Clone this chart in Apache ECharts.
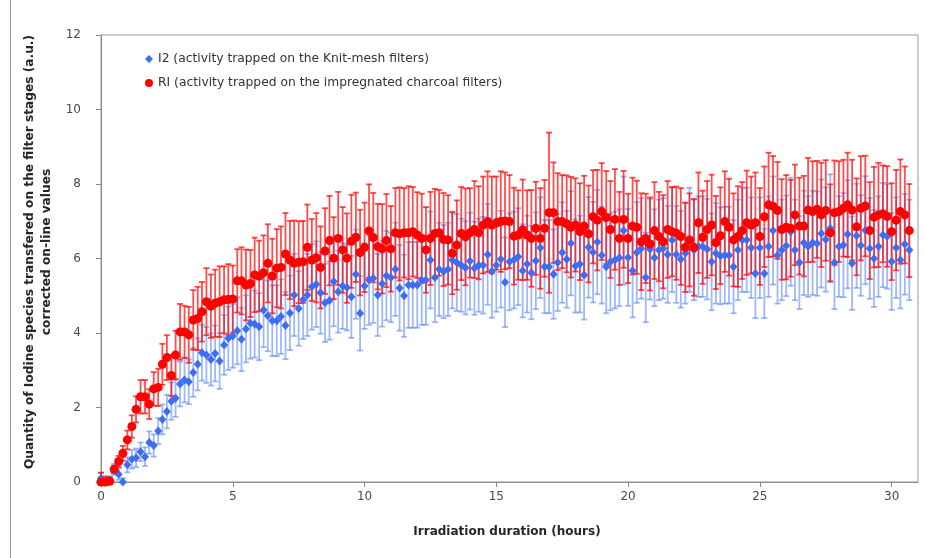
<!DOCTYPE html>
<html>
<head>
<meta charset="utf-8">
<script src="https://cdn.jsdelivr.net/npm/echarts@6/dist/echarts.min.js"></script>
<style>
  html, body { margin: 0; padding: 0; background: #fff; }
  #chart { width: 925px; height: 558px; }
</style>
</head>
<body>
<div id="chart"></div>
<script type="text/javascript">
    // irradiation time (hours), one sample every 10 minutes
    var hours = [
        0, 0.17, 0.33, 0.5, 0.67, 0.83, 1, 1.17, 1.33, 1.5, 1.67, 1.83,
        2, 2.17, 2.33, 2.5, 2.67, 2.83, 3, 3.17, 3.33, 3.5, 3.67, 3.83,
        4, 4.17, 4.33, 4.5, 4.67, 4.83, 5, 5.17, 5.33, 5.5, 5.67, 5.83,
        6, 6.17, 6.33, 6.5, 6.67, 6.83, 7, 7.17, 7.33, 7.5, 7.67, 7.83,
        8, 8.17, 8.33, 8.5, 8.67, 8.83, 9, 9.17, 9.33, 9.5, 9.67, 9.83,
        10, 10.17, 10.33, 10.5, 10.67, 10.83, 11, 11.17, 11.33, 11.5, 11.67, 11.83,
        12, 12.17, 12.33, 12.5, 12.67, 12.83, 13, 13.17, 13.33, 13.5, 13.67, 13.83,
        14, 14.17, 14.33, 14.5, 14.67, 14.83, 15, 15.17, 15.33, 15.5, 15.67, 15.83,
        16, 16.17, 16.33, 16.5, 16.67, 16.83, 17, 17.17, 17.33, 17.5, 17.67, 17.83,
        18, 18.17, 18.33, 18.5, 18.67, 18.83, 19, 19.17, 19.33, 19.5, 19.67, 19.83,
        20, 20.17, 20.33, 20.5, 20.67, 20.83, 21, 21.17, 21.33, 21.5, 21.67, 21.83,
        22, 22.17, 22.33, 22.5, 22.67, 22.83, 23, 23.17, 23.33, 23.5, 23.67, 23.83,
        24, 24.17, 24.33, 24.5, 24.67, 24.83, 25, 25.17, 25.33, 25.5, 25.67, 25.83,
        26, 26.17, 26.33, 26.5, 26.67, 26.83, 27, 27.17, 27.33, 27.5, 27.67, 27.83,
        28, 28.17, 28.33, 28.5, 28.67, 28.83, 29, 29.17, 29.33, 29.5, 29.67, 29.83,
        30, 30.17, 30.33, 30.5, 30.67
    ];

    // I2 - Knit-mesh filters
    var i2 = [
        0.10, 0.00, 0.05, 0.34, 0.21, 0.00, 0.46, 0.61, 0.65, 0.81,
        0.68, 1.06, 0.98, 1.37, 1.68, 1.89, 2.17, 2.25, 2.63, 2.74,
        2.69, 2.94, 3.16, 3.47, 3.41, 3.29, 3.45, 3.25, 3.68, 3.86,
        3.92, 4.06, 3.83, 4.11, 4.26, 4.24, 4.17, 4.62, 4.46, 4.33,
        4.33, 4.44, 4.20, 4.54, 5.02, 4.66, 4.89, 5.02, 5.24, 5.31,
        5.08, 4.81, 4.87, 5.38, 5.11, 5.26, 5.22, 4.97, 5.58, 4.53,
        5.26, 5.42, 5.47, 5.02, 5.32, 5.54, 5.49, 5.71, 5.21, 5.00,
        5.29, 5.29, 5.29, 5.42, 5.42, 5.96, 5.49, 5.71, 5.65, 5.71,
        5.96, 5.89, 5.82, 5.75, 5.93, 5.74, 5.82, 5.82, 6.11, 5.66,
        5.82, 5.98, 5.36, 5.91, 5.96, 6.05, 5.67, 5.85, 5.62, 5.94,
        6.29, 5.78, 5.78, 5.58, 5.89, 6.16, 5.98, 6.41, 5.80, 5.85,
        5.56, 6.30, 6.17, 6.44, 6.09, 5.78, 5.91, 5.96, 6.02, 6.75,
        6.03, 5.67, 6.16, 6.27, 5.49, 6.25, 6.02, 6.23, 6.27, 6.11,
        6.50, 6.11, 5.98, 6.14, 6.50, 6.23, 6.32, 6.32, 6.25, 5.91,
        6.14, 6.07, 6.09, 6.09, 5.78, 6.23, 6.50, 6.50, 6.29, 5.60,
        6.29, 5.60, 6.32, 6.75, 6.09, 6.23, 6.34, 6.72, 6.23, 5.89,
        6.42, 6.32, 6.42, 6.40, 6.67, 6.51, 6.81, 5.89, 6.32, 6.36,
        6.65, 5.87, 6.61, 6.35, 6.76, 6.27, 6.00, 6.32, 6.63, 6.59,
        5.92, 6.29, 5.96, 6.38, 6.23
    ];
    var i2Err = [
        0.15, 0.10, 0.10, 0.15, 0.15, 0.10, 0.20, 0.25, 0.25, 0.25,
        0.25, 0.30, 0.30, 0.35, 0.40, 0.45, 0.50, 0.50, 0.60, 0.60,
        0.60, 0.65, 0.70, 0.75, 0.75, 0.70, 0.75, 0.75, 0.80, 0.85,
        0.85, 0.90, 0.85, 0.90, 0.95, 0.90, 0.90, 1.00, 0.95, 0.95,
        0.95, 1.00, 0.90, 1.00, 1.10, 1.00, 1.05, 1.10, 1.15, 1.15,
        1.10, 1.05, 1.05, 1.20, 1.10, 1.15, 1.15, 1.10, 1.20, 1.00,
        1.15, 1.20, 1.20, 1.10, 1.15, 1.20, 1.20, 1.25, 1.15, 1.10,
        1.15, 1.15, 1.15, 1.20, 1.20, 1.30, 1.20, 1.25, 1.25, 1.25,
        1.30, 1.30, 1.25, 1.25, 1.30, 1.25, 1.25, 1.30, 1.35, 1.25,
        1.25, 1.30, 1.20, 1.30, 1.30, 1.30, 1.25, 1.30, 1.25, 1.30,
        1.35, 1.25, 1.25, 1.20, 1.30, 1.35, 1.30, 1.40, 1.25, 1.30,
        1.20, 1.35, 1.35, 1.40, 1.30, 1.25, 1.30, 1.30, 1.30, 1.45,
        1.30, 1.25, 1.35, 1.35, 1.20, 1.35, 1.30, 1.35, 1.35, 1.30,
        1.40, 1.30, 1.30, 1.35, 1.40, 1.35, 1.35, 1.35, 1.35, 1.30,
        1.35, 1.30, 1.30, 1.30, 1.25, 1.35, 1.40, 1.40, 1.35, 1.20,
        1.35, 1.20, 1.35, 1.45, 1.30, 1.35, 1.35, 1.45, 1.35, 1.25,
        1.40, 1.35, 1.40, 1.40, 1.45, 1.40, 1.45, 1.25, 1.35, 1.40,
        1.45, 1.25, 1.40, 1.35, 1.45, 1.35, 1.30, 1.35, 1.40, 1.40,
        1.30, 1.35, 1.30, 1.35, 1.35
    ];

    // RI - impregnated charcoal filters
    var ri = [
        0.00, 0.00, 0.02, 0.34, 0.55, 0.77, 1.13, 1.49, 1.95, 2.29,
        2.29, 2.09, 2.50, 2.54, 3.16, 3.34, 2.86, 3.41, 4.03, 4.03,
        3.95, 4.35, 4.39, 4.57, 4.84, 4.72, 4.80, 4.84, 4.89, 4.90,
        4.91, 5.40, 5.40, 5.29, 5.33, 5.56, 5.53, 5.62, 5.87, 5.53,
        5.74, 5.76, 6.12, 5.96, 5.87, 5.90, 5.91, 6.30, 5.96, 6.02,
        5.76, 6.20, 6.48, 6.01, 6.54, 6.23, 6.01, 6.46, 6.57, 6.16,
        6.30, 6.74, 6.56, 6.32, 6.26, 6.48, 6.26, 6.69, 6.66, 6.69,
        6.69, 6.72, 6.63, 6.54, 6.23, 6.54, 6.67, 6.69, 6.51, 6.50,
        6.14, 6.36, 6.67, 6.58, 6.69, 6.78, 6.69, 6.90, 6.99, 6.90,
        6.95, 6.99, 7.01, 6.99, 6.60, 6.63, 6.77, 6.63, 6.54, 6.81,
        6.54, 6.81, 7.23, 7.23, 6.99, 6.99, 6.93, 6.84, 6.90, 6.72,
        6.87, 6.66, 7.12, 7.03, 7.26, 7.10, 6.78, 7.05, 6.54, 7.05,
        6.54, 6.87, 6.84, 6.45, 6.54, 6.39, 6.75, 6.59, 6.45, 6.78,
        6.72, 6.68, 6.59, 6.30, 6.50, 6.30, 6.96, 6.57, 6.78, 6.90,
        6.43, 6.61, 6.99, 6.84, 6.50, 6.59, 6.75, 6.96, 6.90, 6.96,
        6.59, 7.12, 7.44, 7.40, 7.29, 6.78, 6.84, 6.81, 7.17, 6.87,
        6.87, 7.30, 7.26, 7.32, 7.17, 7.29, 6.69, 7.23, 7.26, 7.35,
        7.44, 7.30, 6.85, 7.35, 7.41, 6.75, 7.11, 7.17, 7.20, 7.13,
        6.72, 7.03, 7.26, 7.17, 6.75
    ];
    var riErr = [
        0.25, 0.15, 0.10, 0.10, 0.15, 0.20, 0.25, 0.30, 0.35, 0.45,
        0.45, 0.40, 0.45, 0.50, 0.55, 0.60, 0.55, 0.65, 0.75, 0.70,
        0.75, 0.80, 0.85, 0.80, 0.90, 0.85, 0.90, 0.95, 0.90, 0.95,
        0.90, 0.85, 0.90, 0.95, 0.90, 1.00, 0.95, 1.00, 1.05, 1.00,
        1.05, 1.10, 1.10, 1.05, 1.15, 1.10, 1.10, 1.15, 1.10, 1.20,
        1.10, 1.15, 1.20, 1.10, 1.25, 1.15, 1.20, 1.25, 1.20, 1.15,
        1.20, 1.25, 1.20, 1.15, 1.20, 1.25, 1.15, 1.20, 1.25, 1.20,
        1.25, 1.20, 1.15, 1.20, 1.15, 1.25, 1.20, 1.15, 1.25, 1.20,
        1.10, 1.20, 1.25, 1.30, 1.20, 1.30, 1.25, 1.30, 1.35, 1.30,
        1.25, 1.35, 1.30, 1.25, 1.30, 1.20, 1.35, 1.20, 1.30, 1.25,
        1.35, 1.30, 2.15, 1.35, 1.30, 1.25, 1.30, 1.35, 1.25, 1.30,
        1.35, 1.30, 1.25, 1.35, 1.30, 1.25, 1.30, 1.35, 1.25, 1.30,
        1.20, 1.30, 1.25, 1.30, 1.20, 1.25, 1.30, 1.20, 1.25, 1.30,
        1.20, 1.25, 1.30, 1.20, 1.25, 1.30, 1.35, 1.25, 1.30, 1.35,
        1.25, 1.30, 1.35, 1.30, 1.25, 1.35, 1.30, 1.40, 1.30, 1.35,
        1.30, 1.35, 1.40, 1.35, 1.30, 1.35, 1.40, 1.30, 1.35, 1.30,
        1.35, 1.40, 1.35, 1.30, 1.40, 1.35, 1.30, 1.40, 1.35, 1.30,
        1.40, 1.35, 1.30, 1.40, 1.35, 1.30, 1.35, 1.40, 1.30, 1.35,
        1.30, 1.35, 1.40, 1.30, 1.25
    ];

    var xTicks = [0, 5, 10, 15, 20, 25, 30];
    var yTicks = [0, 2, 4, 6, 8, 10, 12];

    var nameI2 = 'I2 (activity trapped on the Knit-mesh filters)';
    var nameRI = 'RI (activity trapped on the impregnated charcoal filters)';

    var FONT = '"DejaVu Sans", sans-serif';

    function points(vals) {
        var out = [];
        for (var k = 0; k < hours.length; k++) out.push([hours[k], vals[k]]);
        return out;
    }
    function withErr(vals, errs) {
        var out = [];
        for (var k = 0; k < hours.length; k++) out.push([hours[k], vals[k], errs[k]]);
        return out;
    }

    // error bar drawing: vertical line + two caps
    function errBars(color) {
        return function (params, api) {
            var x = api.value(0), y = api.value(1), e = api.value(2);
            var top = api.coord([x, y + e]);
            var bot = api.coord([x, Math.max(0, y - e)]);
            var w = 3;
            var st = { stroke: color, lineWidth: 1.8 };
            return {
                type: 'group',
                children: [
                    { type: 'line', shape: { x1: top[0], y1: top[1], x2: bot[0], y2: bot[1] }, style: st },
                    { type: 'line', shape: { x1: top[0] - w, y1: top[1], x2: top[0] + w, y2: top[1] }, style: st },
                    { type: 'line', shape: { x1: bot[0] - w, y1: bot[1], x2: bot[0] + w, y2: bot[1] }, style: st }
                ]
            };
        };
    }

    var myChart = echarts.init(document.getElementById('chart'), null, { renderer: 'canvas' });

    var option = {
        backgroundColor: '#ffffff',
        animation: false,
        textStyle: { fontFamily: FONT },
        grid: {
            left: 101, right: 7, top: 35, bottom: 76,
            show: true, borderColor: '#9a9a9a', borderWidth: 1
        },
        legend: {
            orient: 'vertical',
            left: 140, top: 48,
            itemGap: 12,
            itemWidth: 8, itemHeight: 8,
            textStyle: { fontFamily: FONT, fontSize: 12.3, color: '#333' },
            data: [nameI2, nameRI]
        },
        xAxis: {
            type: 'value',
            min: xTicks[0], max: 31, interval: 5,
            axisLine: { lineStyle: { color: '#8a8a8a' } },
            axisTick: { show: true, length: 5, lineStyle: { color: '#8a8a8a' } },
            axisLabel: { fontSize: 12, color: '#4a4a4a', margin: 9, showMaxLabel: false, fontFamily: FONT },
            splitLine: { show: false }
        },
        yAxis: {
            type: 'value',
            min: yTicks[0], max: yTicks[yTicks.length - 1], interval: 2,
            axisLine: { show: true, lineStyle: { color: '#8a8a8a' } },
            axisTick: { show: true, length: 5, lineStyle: { color: '#8a8a8a' } },
            axisLabel: { fontSize: 12, color: '#4a4a4a', margin: 20, fontFamily: FONT },
            splitLine: { show: false }
        },
        graphic: [
            {
                type: 'line', silent: true,
                shape: { x1: 10.5, y1: 0, x2: 10.5, y2: 558 },
                style: { stroke: '#9a9a9a', lineWidth: 1 }
            },
            {
                type: 'text', silent: true,
                x: 38, y: 252, rotation: Math.PI / 2,
                style: {
                    text: 'Quantity of Iodine species transfered on the filter stages (a.u.)\ncorrected on-line values',
                    font: 'bold 12.2px ' + FONT,
                    fill: '#262626',
                    align: 'center', verticalAlign: 'middle',
                    lineHeight: 17
                }
            },
            {
                type: 'text', silent: true,
                x: 507, y: 532,
                style: {
                    text: 'Irradiation duration (hours)',
                    font: 'bold 12px ' + FONT,
                    fill: '#262626',
                    align: 'center', verticalAlign: 'middle'
                }
            }
        ],
        series: [
            {
                name: nameI2 + ' err',
                type: 'custom',
                z: 1,
                renderItem: errBars('rgba(80,125,242,0.55)'),
                data: withErr(i2, i2Err)
            },
            {
                name: nameRI + ' err',
                type: 'custom',
                z: 2,
                renderItem: errBars('rgba(255,0,0,0.7)'),
                data: withErr(ri, riErr)
            },
            {
                name: nameI2,
                type: 'scatter',
                z: 3,
                symbol: 'diamond',
                symbolSize: [8, 9],
                itemStyle: { color: '#3d6df2', opacity: 1 },
                data: points(i2)
            },
            {
                name: nameRI,
                type: 'scatter',
                z: 4,
                symbol: 'circle',
                symbolSize: 9,
                itemStyle: { color: '#ff0000', opacity: 1 },
                data: points(ri)
            }
        ]
    };

    myChart.setOption(option);
</script>
</body>
</html>
